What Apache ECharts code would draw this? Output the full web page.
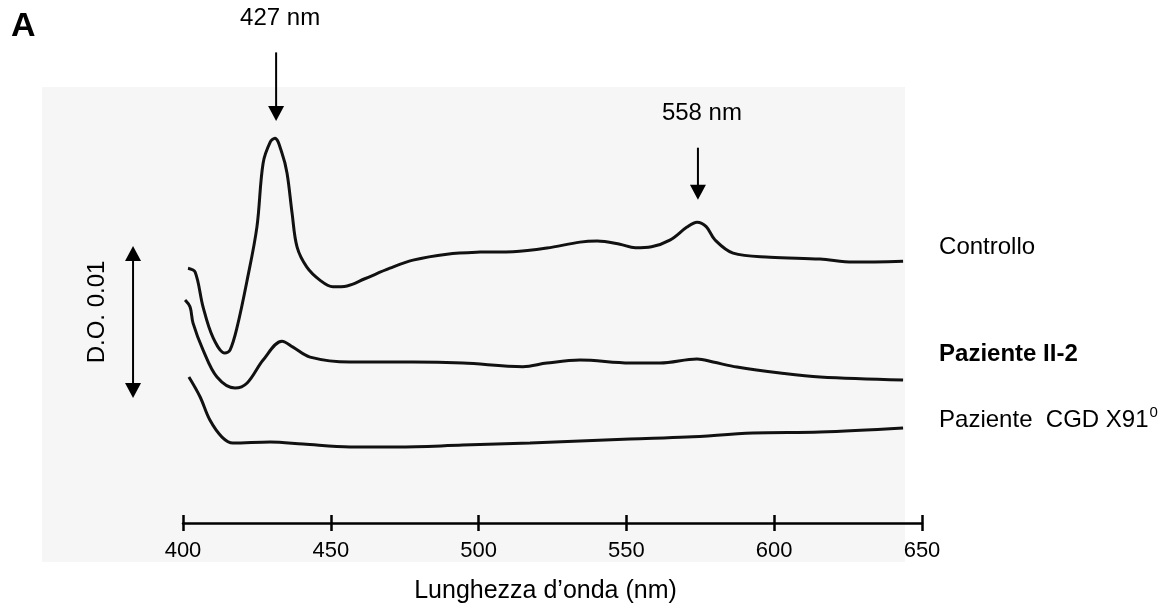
<!DOCTYPE html>
<html><head><meta charset="utf-8">
<script src="https://cdn.jsdelivr.net/npm/echarts@6/dist/echarts.min.js"></script>
<style>html,body{margin:0;padding:0;background:#fff}#c{width:1175px;height:611px}</style>
</head><body><div id="c"></div>
<script>
// wavelength (nm) ticks
const xTicks = [400, 450, 500, 550, 600, 650];
// absorbance in units of 0.001 D.O. (arbitrary baseline offsets as in the figure)
const controllo = [[401.7,17.11],[404.1,16.85],[406.8,14.50],[410.1,12.48],[414.2,11.41],[415.9,11.61],[418.3,13.15],[421.7,16.31],[425.0,19.87],[427.1,24.16],[429.5,25.57],[431.1,25.84],[433.5,24.83],[435.2,23.49],[436.9,20.81],[438.6,18.52],[441.9,17.18],[446.3,16.31],[450.7,15.86],[455.5,15.92],[461.5,16.40],[470.0,17.11],[477.8,17.65],[489.3,18.05],[500.5,18.19],[511.6,18.22],[523.1,18.46],[534.3,18.86],[540.1,18.93],[547.8,18.72],[553.0,18.48],[558.5,18.55],[564.7,18.99],[570.5,19.87],[573.9,20.20],[577.0,19.90],[580.0,19.00],[586.1,18.12],[598.6,17.85],[615.5,17.72],[626.7,17.52],[643.6,17.58]];
const paziente2 = [[400.7,14.97],[402.4,14.50],[403.4,13.42],[406.8,11.61],[411.5,9.80],[417.6,9.06],[421.7,9.40],[427.1,10.94],[433.5,12.21],[437.2,11.81],[443.0,11.14],[456.5,10.81],[477.8,10.81],[494.7,10.74],[515.0,10.50],[523.1,10.74],[534.3,10.94],[551.2,10.74],[561.4,10.74],[573.9,11.01],[579.3,10.81],[587.4,10.47],[602.0,10.07],[615.5,9.80],[643.6,9.60]];
const pazienteCGD = [[402.0,9.80],[405.8,8.46],[409.1,6.91],[413.2,5.77],[416.9,5.37],[429.5,5.44],[440.6,5.30],[456.5,5.10],[472.4,5.10],[494.7,5.23],[517.4,5.37],[551.2,5.64],[570.5,5.77],[592.8,6.04],[615.5,6.11],[643.6,6.38]];
const seriesNames = ['Controllo', 'Paziente II-2', 'Paziente  CGD X91'];
const peakLabels = ['427 nm', '558 nm'];
const peakArrowX = [431.5, 574.2];
const peakArrowTop = [31.6, 25.2];
const peakArrowTip = [27.0, 21.7];
const scaleBarLabel = 'D.O. 0.01';
const scaleBarX = 383.1;
const scaleBarRange = [8.4, 18.6];
const xAxisTitle = 'Lunghezza d’onda (nm)';
const panelLetter = 'A';

const FONT = '"Liberation Sans", Arial, sans-serif';
const FS = 24;
const chart = echarts.init(document.getElementById('c'), null, {renderer: 'canvas'});
const lineStyle = {color: '#111', width: 3};
const mk = (name, data, off, bold) => ({
  name, type: 'line', data, showSymbol: false, smooth: 0.35, lineStyle,
  silent: true,
  endLabel: {
    show: true, offset: off, distance: 0,
    formatter: name === seriesNames[2] ? '{a|' + name + '}{s|0}' : name,
    color: '#000', fontFamily: FONT, fontSize: FS, fontWeight: bold ? 'bold' : 'normal',
    rich: {a: {fontFamily: FONT, fontSize: FS, color: '#000'}, s: {fontFamily: FONT, fontSize: 15, color: '#000', verticalAlign: 'top', padding: [0, 0, 14, 1]}}
  }
});
const option = {
  animation: false,
  backgroundColor: '#fff',
  grid: {left: 183, right: 253, top: 106, bottom: 88},
  xAxis: [{
    type: 'value', min: xTicks[0], max: xTicks[xTicks.length - 1], interval: 50,
    axisLine: {show: true, lineStyle: {color: '#000', width: 2.5}},
    axisTick: {show: true, inside: true, length: 8, lineStyle: {color: '#000', width: 2.5}},
    axisLabel: {color: '#000', fontFamily: FONT, fontSize: 22, margin: 17},
    splitLine: {show: false}
  }, {
    type: 'value', min: xTicks[0], max: xTicks[xTicks.length - 1], interval: 50, position: 'bottom',
    axisLine: {show: false},
    axisTick: {show: true, inside: false, length: 8, lineStyle: {color: '#000', width: 2.5}},
    axisLabel: {show: false}, splitLine: {show: false}
  }],
  yAxis: {type: 'value', min: 0, max: 28, show: false, splitLine: {show: false}},
  series: [
    mk(seriesNames[0], controllo, [36, -14], false),
    mk(seriesNames[1], paziente2, [36, -26], true),
    mk(seriesNames[2], pazienteCGD, [36, -8], false)
  ]
};
chart.setOption(option);

const P = (x, y) => chart.convertToPixel({gridIndex: 0}, [x, y]);
const g = [];
g.push({type: 'rect', z: -10, shape: {x: 42, y: 87, width: 863, height: 475}, style: {fill: '#f6f6f6'}, silent: true});
g.push({type: 'text', left: 11, top: 10, style: {text: panelLetter, fontFamily: FONT, fontSize: 34, fontWeight: 'bold', fill: '#000'}});
const arrowDown = (x, yTop, yTip) => {
  const a = P(x, yTop), b = P(x, yTip);
  g.push({type: 'line', shape: {x1: a[0], y1: a[1], x2: b[0], y2: b[1] - 12}, style: {stroke: '#000', lineWidth: 2}});
  g.push({type: 'polygon', shape: {points: [[b[0] - 8, b[1] - 15], [b[0] + 8, b[1] - 15], [b[0], b[1]]]}, style: {fill: '#000'}});
};
for (let i = 0; i < peakLabels.length; i++) {
  arrowDown(peakArrowX[i], peakArrowTop[i], peakArrowTip[i]);
  const t = P(peakArrowX[i], peakArrowTop[i]);
  g.push({type: 'text', x: t[0] + 4, y: t[1] - 34, style: {text: peakLabels[i], fontFamily: FONT, fontSize: FS, fill: '#000', align: 'center', verticalAlign: 'middle'}});
}
// scale bar double arrow
{
  const a = P(scaleBarX, scaleBarRange[1]), b = P(scaleBarX, scaleBarRange[0]);
  g.push({type: 'line', shape: {x1: a[0], y1: a[1] + 10, x2: b[0], y2: b[1] - 10}, style: {stroke: '#000', lineWidth: 2}});
  g.push({type: 'polygon', shape: {points: [[a[0] - 8, a[1] + 15], [a[0] + 8, a[1] + 15], [a[0], a[1]]]}, style: {fill: '#000'}});
  g.push({type: 'polygon', shape: {points: [[b[0] - 8, b[1] - 15], [b[0] + 8, b[1] - 15], [b[0], b[1]]]}, style: {fill: '#000'}});
  g.push({type: 'text', x: a[0] - 36, y: (a[1] + b[1]) / 2 - 10, rotation: Math.PI / 2, style: {text: scaleBarLabel, fontFamily: FONT, fontSize: FS, fill: '#000', align: 'center', verticalAlign: 'middle'}});
}
{
  const m = P((xTicks[0] + xTicks[xTicks.length - 1]) / 2, 0);
  g.push({type: 'text', x: m[0] - 7, y: 591, style: {text: xAxisTitle, fontFamily: FONT, fontSize: 25, fill: '#000', align: 'center', verticalAlign: 'middle'}});
}
chart.setOption({graphic: g});
</script></body></html>
